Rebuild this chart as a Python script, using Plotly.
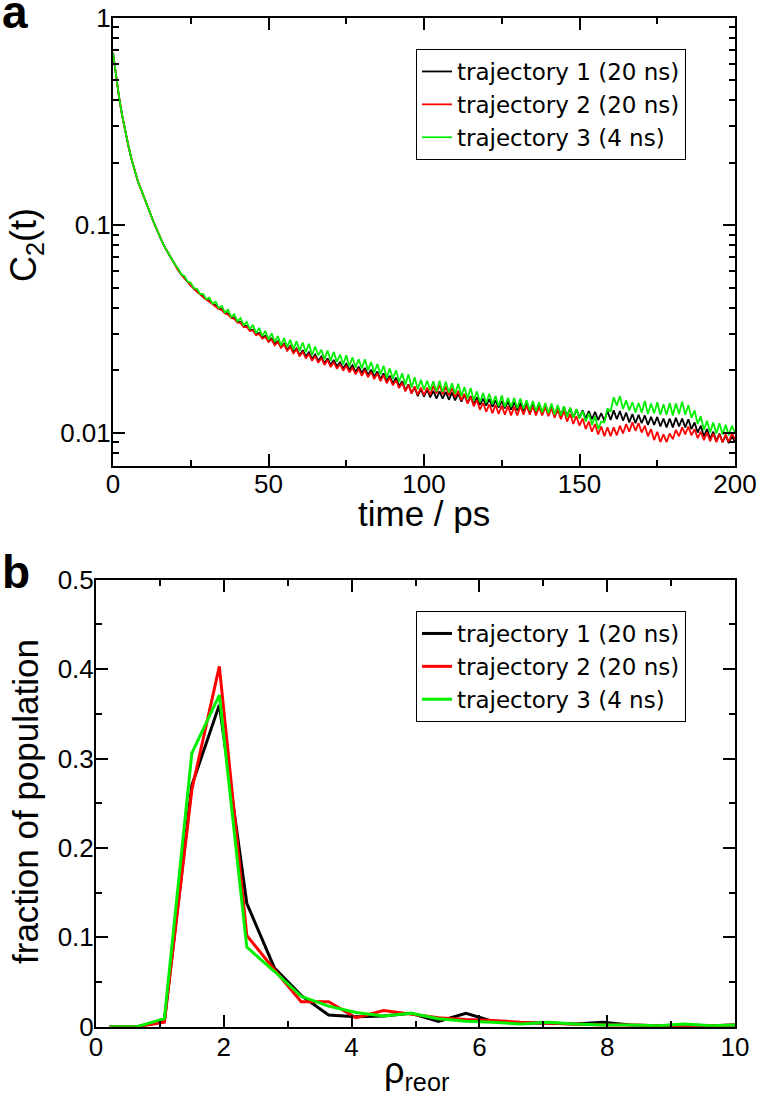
import plotly.graph_objects as go
import math

# ---------------- Panel a data: C2(t) ----------------
time_ps = list(range(0, 201))

c2_traj1 = [
    0.680, 0.520, 0.410, 0.335, 0.280, 0.240, 0.207, 0.182, 0.163, 0.149,
    0.137, 0.125, 0.114, 0.104, 0.0955, 0.0880, 0.0820, 0.0768, 0.0722, 0.0680,
    0.0645, 0.0608, 0.0580, 0.0555, 0.0534, 0.0513, 0.0496, 0.0479, 0.0466, 0.0452,
    0.0440, 0.0432, 0.0419, 0.0412, 0.0399, 0.0393, 0.0380, 0.0374, 0.0361, 0.0358,
    0.0343, 0.0341, 0.0327, 0.0327, 0.0313, 0.0314, 0.0298, 0.0303, 0.0288, 0.0293,
    0.0278, 0.0284, 0.0268, 0.0276, 0.0259, 0.0268, 0.0251, 0.0262, 0.0245, 0.0255,
    0.0236, 0.0250, 0.0233, 0.0244, 0.0227, 0.0238, 0.0222, 0.0233, 0.0216, 0.0228,
    0.0212, 0.0224, 0.0209, 0.0218, 0.0204, 0.0215, 0.0201, 0.0211, 0.0196, 0.0208,
    0.0194, 0.0205, 0.0190, 0.0201, 0.0186, 0.0197, 0.0181, 0.0193, 0.0177, 0.0188,
    0.0173, 0.0184, 0.0168, 0.0177, 0.0160, 0.0171, 0.0155, 0.0165, 0.0150, 0.0162,
    0.0149, 0.0161, 0.0148, 0.0159, 0.0146, 0.0158, 0.0146, 0.0157, 0.0144, 0.0156,
    0.0143, 0.0154, 0.0141, 0.0152, 0.0139, 0.0150, 0.0137, 0.0148, 0.0136, 0.0146,
    0.0135, 0.0145, 0.0133, 0.0143, 0.0132, 0.0142, 0.0131, 0.0141, 0.0129, 0.0140,
    0.0128, 0.0139, 0.0127, 0.0138, 0.0126, 0.0137, 0.0125, 0.0136, 0.0124, 0.0136,
    0.0124, 0.0135, 0.0122, 0.0134, 0.0121, 0.0133, 0.0120, 0.0131, 0.0118, 0.0129,
    0.0118, 0.0128, 0.0117, 0.0127, 0.0116, 0.0126, 0.0115, 0.0124, 0.0114, 0.0127,
    0.0115, 0.0128, 0.0116, 0.0127, 0.0114, 0.0125, 0.0112, 0.0123, 0.0111, 0.0122,
    0.0111, 0.0121, 0.0109, 0.0119, 0.0109, 0.0119, 0.0107, 0.0117, 0.0106, 0.0117,
    0.0106, 0.0118, 0.0107, 0.0117, 0.0106, 0.0116, 0.0104, 0.0112, 0.0100, 0.0108,
    0.0096, 0.0104, 0.0093, 0.0101, 0.0091, 0.0099, 0.0090, 0.0097, 0.0089, 0.0096,
    0.0090,
]

c2_traj2 = [
    0.680, 0.520, 0.410, 0.335, 0.280, 0.240, 0.207, 0.182, 0.163, 0.149,
    0.137, 0.125, 0.114, 0.104, 0.0955, 0.0880, 0.0820, 0.0768, 0.0722, 0.0680,
    0.0645, 0.0606, 0.0577, 0.0553, 0.0531, 0.0511, 0.0493, 0.0477, 0.0462, 0.0450,
    0.0437, 0.0428, 0.0416, 0.0408, 0.0395, 0.0389, 0.0376, 0.0371, 0.0357, 0.0354,
    0.0339, 0.0338, 0.0323, 0.0324, 0.0309, 0.0311, 0.0295, 0.0299, 0.0284, 0.0289,
    0.0274, 0.0281, 0.0264, 0.0273, 0.0256, 0.0266, 0.0248, 0.0259, 0.0241, 0.0252,
    0.0233, 0.0246, 0.0228, 0.0240, 0.0222, 0.0234, 0.0217, 0.0229, 0.0212, 0.0224,
    0.0207, 0.0219, 0.0203, 0.0214, 0.0199, 0.0210, 0.0195, 0.0206, 0.0191, 0.0203,
    0.0188, 0.0200, 0.0185, 0.0196, 0.0181, 0.0193, 0.0177, 0.0189, 0.0173, 0.0184,
    0.0169, 0.0179, 0.0164, 0.0174, 0.0158, 0.0170, 0.0154, 0.0167, 0.0152, 0.0165,
    0.0151, 0.0165, 0.0152, 0.0168, 0.0154, 0.0170, 0.0153, 0.0167, 0.0151, 0.0164,
    0.0148, 0.0159, 0.0143, 0.0154, 0.0138, 0.0149, 0.0134, 0.0144, 0.0129, 0.0139,
    0.0126, 0.0137, 0.0124, 0.0136, 0.0123, 0.0135, 0.0122, 0.0134, 0.0121, 0.0133,
    0.0121, 0.0134, 0.0122, 0.0135, 0.0122, 0.0134, 0.0121, 0.0133, 0.0121, 0.0133,
    0.0120, 0.0131, 0.0118, 0.0129, 0.0116, 0.0127, 0.0113, 0.0123, 0.0110, 0.0120,
    0.0108, 0.0117, 0.0104, 0.0113, 0.0101, 0.0110, 0.0098, 0.0107, 0.0096, 0.0106,
    0.0096, 0.0106, 0.0097, 0.0108, 0.0099, 0.0110, 0.0101, 0.0112, 0.0102, 0.0111,
    0.0100, 0.0108, 0.0096, 0.0104, 0.0092, 0.0101, 0.0090, 0.0098, 0.0090, 0.0099,
    0.0093, 0.0103, 0.0096, 0.0106, 0.0098, 0.0107, 0.0097, 0.0104, 0.0094, 0.0101,
    0.0092, 0.0100, 0.0091, 0.0099, 0.0090, 0.0098, 0.0090, 0.0098, 0.0090, 0.0099,
    0.0093,
]

c2_traj3 = [
    0.680, 0.520, 0.410, 0.335, 0.280, 0.240, 0.207, 0.182, 0.163, 0.149,
    0.137, 0.125, 0.114, 0.104, 0.0955, 0.0880, 0.0820, 0.0768, 0.0722, 0.0680,
    0.0645, 0.0617, 0.0579, 0.0568, 0.0535, 0.0528, 0.0497, 0.0494, 0.0466, 0.0467,
    0.0439, 0.0447, 0.0419, 0.0428, 0.0399, 0.0408, 0.0379, 0.0391, 0.0361, 0.0372,
    0.0344, 0.0357, 0.0330, 0.0342, 0.0315, 0.0331, 0.0302, 0.0320, 0.0292, 0.0309,
    0.0281, 0.0301, 0.0274, 0.0292, 0.0263, 0.0286, 0.0259, 0.0280, 0.0252, 0.0276,
    0.0248, 0.0272, 0.0244, 0.0268, 0.0237, 0.0260, 0.0236, 0.0251, 0.0226, 0.0249,
    0.0222, 0.0245, 0.0219, 0.0238, 0.0213, 0.0236, 0.0209, 0.0231, 0.0206, 0.0226,
    0.0204, 0.0226, 0.0200, 0.0219, 0.0195, 0.0214, 0.0191, 0.0210, 0.0184, 0.0204,
    0.0182, 0.0200, 0.0176, 0.0193, 0.0170, 0.0191, 0.0165, 0.0185, 0.0162, 0.0180,
    0.0161, 0.0178, 0.0160, 0.0177, 0.0158, 0.0178, 0.0157, 0.0176, 0.0156, 0.0173,
    0.0154, 0.0172, 0.0150, 0.0166, 0.0146, 0.0164, 0.0143, 0.0158, 0.0140, 0.0155,
    0.0139, 0.0154, 0.0137, 0.0150, 0.0134, 0.0151, 0.0133, 0.0147, 0.0133, 0.0147,
    0.0131, 0.0146, 0.0130, 0.0143, 0.0128, 0.0142, 0.0127, 0.0140, 0.0125, 0.0139,
    0.0124, 0.0138, 0.0122, 0.0136, 0.0121, 0.0134, 0.0119, 0.0132, 0.0118, 0.0130,
    0.0117, 0.0127, 0.0113, 0.0124, 0.0109, 0.0120, 0.0104, 0.0113, 0.0112, 0.0131,
    0.0126, 0.0148, 0.0135, 0.0150, 0.0130, 0.0143, 0.0128, 0.0140, 0.0125, 0.0139,
    0.0125, 0.0142, 0.0123, 0.0138, 0.0124, 0.0140, 0.0122, 0.0137, 0.0122, 0.0139,
    0.0121, 0.0138, 0.0123, 0.0141, 0.0122, 0.0136, 0.0118, 0.0128, 0.0110, 0.0120,
    0.0103, 0.0114, 0.0100, 0.0112, 0.0099, 0.0111, 0.0098, 0.0109, 0.0097, 0.0108,
    0.0100,
]

c2_tickvals = [0.01, 0.1, 1]
c2_ticktext = ["0.01", "0.1", "1"]
c2_minorvals = [0.008, 0.009, 0.02, 0.03, 0.04, 0.05, 0.06, 0.07, 0.08, 0.09,
                0.2, 0.3, 0.4, 0.5, 0.6, 0.7, 0.8, 0.9]

# ---------------- Panel b data: population histogram ----------------
rho_reor = [0.21, 0.64, 1.07, 1.50, 1.93, 2.36, 2.79, 3.21, 3.64, 4.07, 4.50, 4.93,
            5.36, 5.79, 6.21, 6.64, 7.07, 7.50, 7.93, 8.36, 8.79, 9.21, 9.64, 10.07]
pop_traj1 = [0, 0, 0.006, 0.270, 0.360, 0.138, 0.066, 0.035, 0.013, 0.011, 0.012, 0.015,
             0.006, 0.015, 0.006, 0.004, 0.004, 0.003, 0.005, 0.002, 0.001, 0.002, 0.001, 0.002]
pop_traj2 = [0, 0, 0.005, 0.265, 0.403, 0.102, 0.064, 0.028, 0.028, 0.010, 0.018, 0.014,
             0.010, 0.008, 0.007, 0.005, 0.004, 0.003, 0.002, 0.002, 0.001, 0.001, 0.001, 0.002]
pop_traj3 = [0, 0, 0.009, 0.306, 0.371, 0.089, 0.062, 0.034, 0.023, 0.016, 0.012, 0.015,
             0.009, 0.006, 0.005, 0.003, 0.005, 0.003, 0.002, 0.002, 0.001, 0.003, 0.001, 0.002]

names = ["trajectory 1 (20 ns)", "trajectory 2 (20 ns)", "trajectory 3 (4 ns)"]
colors = ["#000000", "#ff0000", "#00f000"]

W, H = 760, 1095
FONT = "Liberation Sans, Arial, Helvetica, sans-serif"
LEGFONT = "DejaVu Sans, Liberation Sans, sans-serif"


def px(x):
    return x / W


def py(y):
    return 1 - y / H


fig = go.Figure()

for name, col, ys in zip(names, colors, [c2_traj1, c2_traj2, c2_traj3]):
    fig.add_trace(go.Scatter(x=time_ps, y=ys, mode="lines", name=name,
                             line=dict(color=col, width=1.8),
                             xaxis="x", yaxis="y", legend="legend"))

for name, col, ys in zip(names, colors, [pop_traj1, pop_traj2, pop_traj3]):
    fig.add_trace(go.Scatter(x=rho_reor, y=ys, mode="lines", name=name,
                             line=dict(color=col, width=3),
                             xaxis="x2", yaxis="y2", legend="legend2"))

axis_common = dict(showline=True, linecolor="black", linewidth=2, mirror="allticks",
                   ticks="inside", ticklen=12, tickwidth=2, tickcolor="black",
                   showgrid=False, zeroline=False,
                   tickfont=dict(family=FONT, size=26, color="black"))
minor_common = dict(ticks="inside", ticklen=6, tickwidth=2, tickcolor="black", showgrid=False)

fig.update_layout(
    width=W, height=H,
    margin=dict(l=0, r=0, t=0, b=0, autoexpand=False),
    paper_bgcolor="white", plot_bgcolor="white",
    font=dict(family=FONT, color="black"),
    xaxis=dict(domain=[px(113), px(735)], anchor="y", range=[0, 200],
               tick0=0, dtick=50, ticklabelstandoff=-6,
               minor=dict(dtick=25, **minor_common), **axis_common),
    yaxis=dict(domain=[py(466), py(18)], anchor="x", type="log",
               range=[math.log10(0.0069), 0], ticklabelstandoff=-5,
               tickmode="array", tickvals=c2_tickvals, ticktext=c2_ticktext,
               minor=dict(tickmode="array", tickvals=c2_minorvals, **minor_common),
               **axis_common),
    xaxis2=dict(domain=[px(96), px(735)], anchor="y2", range=[0, 10],
                tick0=0, dtick=2, ticklabelstandoff=-4,
                minor=dict(dtick=1, **minor_common), **axis_common),
    yaxis2=dict(domain=[py(1026.7), py(579.7)], anchor="x2", range=[0, 0.5],
                tick0=0, dtick=0.1, tickformat="~g", ticklabelstandoff=-5,
                minor=dict(dtick=0.05, **minor_common), **axis_common),
    legend=dict(x=px(416), y=py(49), xanchor="left", yanchor="top",
                bgcolor="white", bordercolor="black", borderwidth=1,
                font=dict(family=LEGFONT, size=23, color="black"),
                itemwidth=30, tracegroupgap=0),
    legend2=dict(x=px(416), y=py(611), xanchor="left", yanchor="top",
                 bgcolor="white", bordercolor="black", borderwidth=1,
                 font=dict(family=LEGFONT, size=23, color="black"),
                 itemwidth=30, tracegroupgap=0),
    showlegend=True,
)

annotations = [
    dict(text="<b>a</b>", x=0, y=py(12), xanchor="left", yanchor="middle",
         font=dict(family=FONT, size=46)),
    dict(text="<b>b</b>", x=0, y=py(572), xanchor="left", yanchor="middle",
         font=dict(family=FONT, size=46)),
    dict(text="time / ps", x=px(424), y=py(513), xanchor="center", yanchor="middle",
         font=dict(family=FONT, size=35)),
    dict(text="C<sub>2</sub>(t)", x=px(26), y=py(245), xanchor="center", yanchor="middle",
         textangle=-90, font=dict(family=FONT, size=36)),
    dict(text="ρ<sub>reor</sub>", x=px(416), y=py(1073), xanchor="center", yanchor="middle",
         font=dict(family=FONT, size=36)),
    dict(text="fraction of population", x=px(25), y=py(802), xanchor="center",
         yanchor="middle", textangle=-90, font=dict(family=FONT, size=35)),
]
for a in annotations:
    a.update(xref="paper", yref="paper", showarrow=False)
fig.update_layout(annotations=annotations)

fig.write_html(
    "out.html",
    config={"displayModeBar": False},
    post_script="document.body.style.margin='0';document.body.style.padding='0';"
                "document.body.style.overflow='hidden';",
)
